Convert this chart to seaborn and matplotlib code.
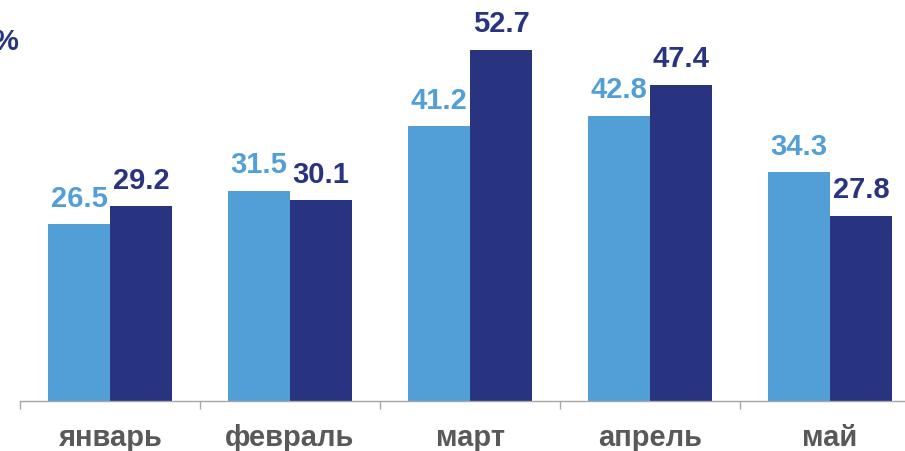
import pandas as pd
import seaborn as sns
import matplotlib.pyplot as plt
from matplotlib.ticker import FixedLocator

# Chart values
months = ["январь", "февраль", "март", "апрель", "май"]
series_a = [26.5, 31.5, 41.2, 42.8, 34.3]
series_b = [29.2, 30.1, 52.7, 47.4, 27.8]
series_names = ["a", "b"]
colors = ["#529FD8", "#283480"]

df = pd.DataFrame({
    "month": months * 2,
    "value": series_a + series_b,
    "series": [series_names[0]] * len(months) + [series_names[1]] * len(months),
})

sns.set_style("white")
plt.rcParams["font.family"] = ["Liberation Sans", "DejaVu Sans"]

fig = plt.figure(figsize=(9.05, 4.51), dpi=100)
ax = fig.add_axes([20 / 905, 50 / 451, 900 / 905, 400 / 451])

sns.barplot(data=df, x="month", y="value", hue="series", order=months,
            palette=colors, width=0.69, gap=0, saturation=1,
            linewidth=0, legend=False, ax=ax)

# Value labels above bars
for cont, col in zip(ax.containers, colors):
    ax.bar_label(cont, fmt="%.1f", padding=8.5, color=col,
                 fontsize=21, fontweight="bold")

ax.set_xlim(-0.5, 4.5)
ax.set_ylim(0, 60)
ax.set_xlabel("")
ax.set_ylabel("")
ax.set_yticks([])

# boundary ticks as major, month labels as minor
ax.xaxis.set_major_locator(FixedLocator([i - 0.5 for i in range(len(months) + 1)]))
ax.xaxis.set_minor_locator(FixedLocator(list(range(len(months)))))
ax.set_xticklabels([""] * (len(months) + 1))
ax.set_xticklabels(months, minor=True, fontweight="bold")
ax.tick_params(axis="x", which="major", length=6, width=1, color="#A6A6A6", bottom=True)
ax.tick_params(axis="x", which="minor", length=0, pad=16.5, labelsize=21,
               labelcolor="#595959")

for side in ["top", "right", "left"]:
    ax.spines[side].set_visible(False)
ax.spines["bottom"].set_color("#A6A6A6")
ax.spines["bottom"].set_linewidth(1)

fig.text(-8 / 905, 1 - 42 / 451, "%", fontsize=21, fontweight="bold",
         color="#283480", ha="left", va="center")

fig.savefig("out.png", dpi=100)
